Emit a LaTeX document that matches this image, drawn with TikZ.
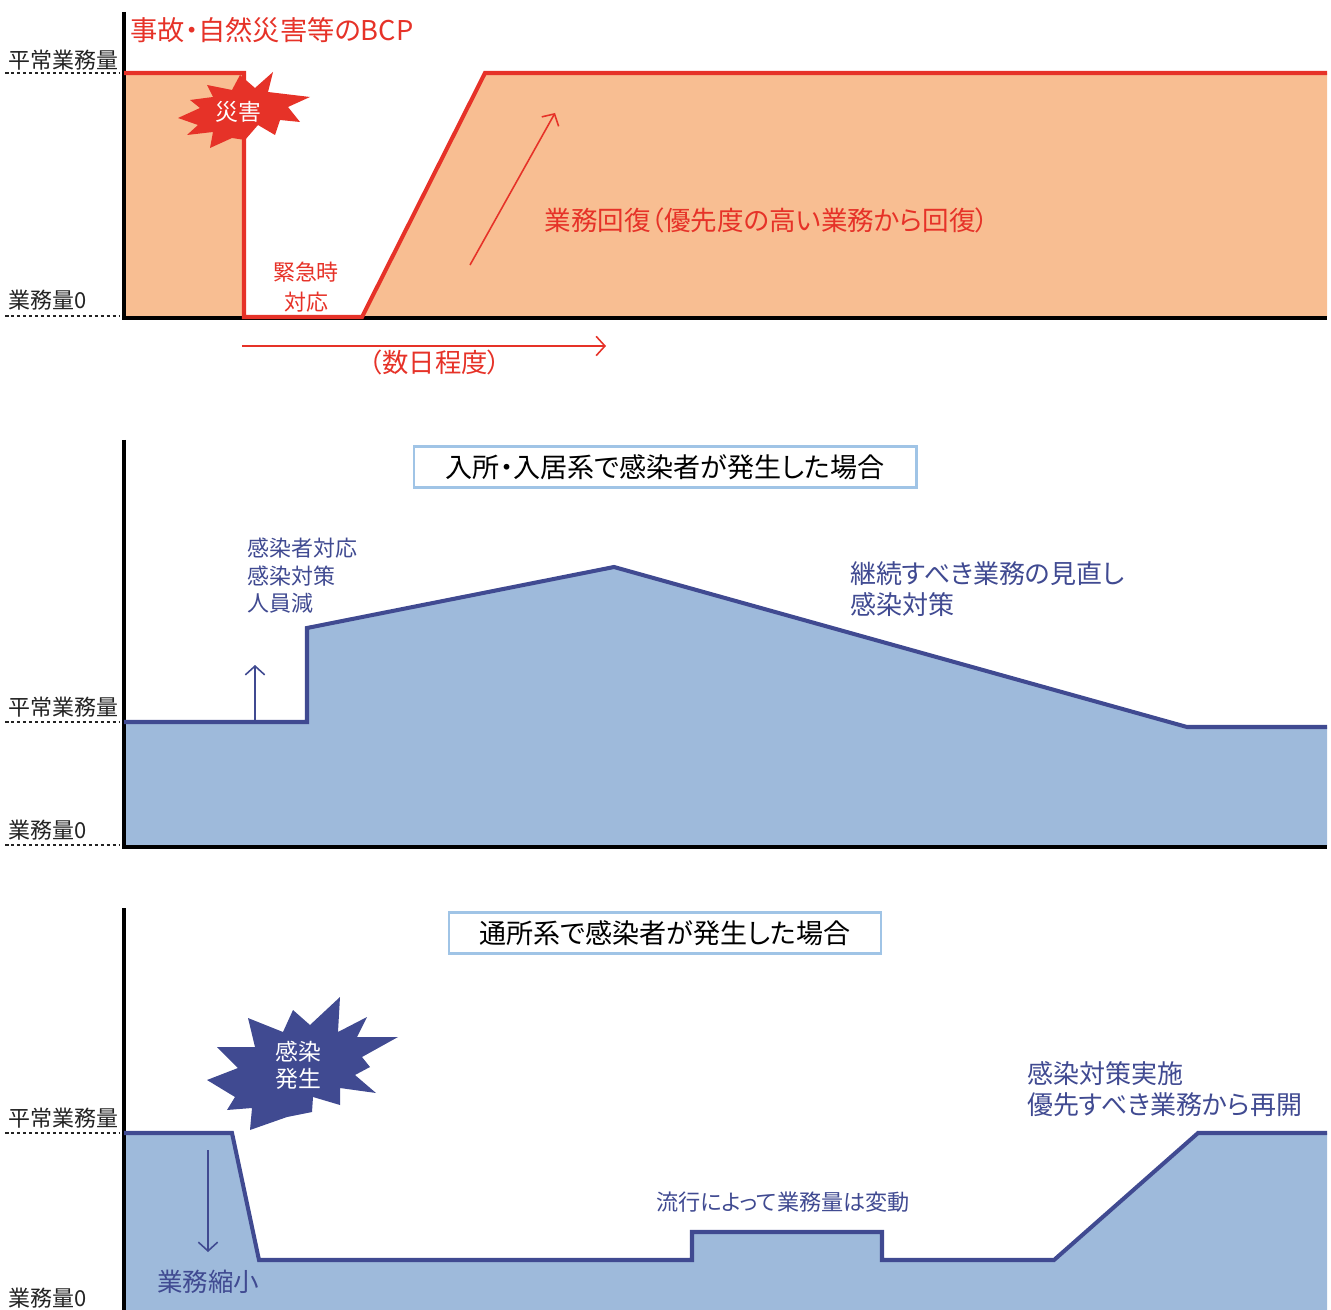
\documentclass[tikz,border=0pt]{standalone}
\usepackage{fontspec}
\setmainfont{Noto Sans CJK JP}[RawFeature=+palt]
\usetikzlibrary{arrows.meta}
\definecolor{bcpred}{RGB}{230,50,40}
\definecolor{bcporange}{RGB}{248,190,146}
\definecolor{infnavy}{RGB}{64,74,145}
\definecolor{infblue}{RGB}{158,186,219}
\definecolor{boxblue}{RGB}{160,196,230}
\definecolor{lblgray}{RGB}{35,35,35}
\tikzset{
  axis/.style={line width=2.4pt,black},
  level/.style={lblgray,line width=1pt,dash pattern=on 2pt off 1.4pt},
  lvllabel/.style={anchor=west,inner sep=0pt,text=lblgray,font=\fontsize{12.5}{14}\selectfont},
  redline/.style={bcpred,line width=2.3pt},
  navyline/.style={infnavy,line width=2.3pt},
  thinarrow/.style={line width=0.9pt,-{Straight Barb[length=5pt,width=11pt]}},
  casebox/.style={draw=boxblue,line width=1.2pt,fill=white,minimum height=0.82cm,inner sep=0pt,
    text=black,font=\fontsize{15.4}{17}\selectfont}
}
\begin{document}
\begin{tikzpicture}[x=0.02cm,y=-0.02cm]
    \useasboundingbox (0,0) rectangle (1331,1310);
    % 事故・自然災害
    \fill[bcporange] (124,73) rectangle (244,317);
    \fill[bcporange] (362,317) -- (485,73) -- (1327,73) -- (1327,317) -- cycle;
    \draw[axis] (124,12) -- (124,318) -- (1327,318);
    \draw[redline] (124,73) -- (244,73) -- (244,317) -- (362,317) -- (485,73) -- (1327,73);
    \draw[level] (5,73) -- (120,73); \draw[level] (5,316) -- (120,316);
    \node[lvllabel] (normA) at (8,60) {平常業務量};
    \node[lvllabel] (zeroA) at (8,300) {業務量0};
    \node[anchor=west,inner sep=0pt,text=bcpred,font=\fontsize{15.5}{17}\selectfont] (bcptitle) at (130,30) {事故・自然災害等のBCP};
    \fill[bcpred] (273,72) -- (268,92) -- (310,97) -- (288,107) -- (300,122) -- (280,120) -- (275,135) -- (258,125)
      -- (245,140) -- (232,138) -- (210,148) -- (213,132) -- (187,135) -- (198,125) -- (178,118) -- (200,108)
      -- (190,100) -- (213,97) -- (207,85) -- (232,90) -- (240,75) -- (255,88) -- cycle;
    \node[text=white,font=\fontsize{13}{15}\selectfont] (disaster) at (238,112) {災害};
    \node[align=center,text=bcpred,font=\fontsize{12.5}{17}\selectfont] (emergency) at (306,287) {緊急時\\対応};
    \coordinate (recA) at (470,265); \coordinate (recB) at (555,113);
    \draw[thinarrow,bcpred] (recA) -- (recB);
    \node[text=bcpred,font=\fontsize{15.1}{17}\selectfont] (recovery) at (767,220) {業務回復（優先度の高い業務から回復）};
    \coordinate (dayA) at (242,346); \coordinate (dayB) at (606,346);
    \draw[thinarrow,bcpred] (dayA) -- (dayB);
    \node[text=bcpred,font=\fontsize{15}{17}\selectfont] (days) at (435,362) {（数日程度）};
    % 入所・入居系
    \fill[infblue] (124,722) -- (307,722) -- (307,628) -- (614,567) -- (1187,727) -- (1327,727) -- (1327,846) -- (124,846) -- cycle;
    \draw[axis] (124,440) -- (124,847) -- (1327,847);
    \draw[navyline] (124,722) -- (307,722) -- (307,628) -- (614,567) -- (1187,727) -- (1327,727);
    \draw[level] (5,722) -- (120,722); \draw[level] (5,845) -- (120,845);
    \node[lvllabel] (normB) at (8,707) {平常業務量};
    \node[lvllabel] (zeroB) at (8,830) {業務量0};
    \node[casebox,minimum width=10.06cm] (caseA) at (665,467) {入所・入居系で感染者が発生した場合};
    \coordinate (upA) at (255,722); \coordinate (upB) at (255,665);
    \draw[thinarrow,infnavy] (upA) -- (upB);
    \node[anchor=west,align=left,inner sep=0pt,text=infnavy,font=\fontsize{12.5}{15.6}\selectfont] (response) at (247,576) {感染者対応\\感染対策\\人員減};
    \node[anchor=west,align=left,inner sep=0pt,text=infnavy,font=\fontsize{14.8}{17.6}\selectfont] (review) at (850,589) {継続すべき業務の見直し\\感染対策};
    % 通所系
    \fill[infblue] (124,1133) -- (232,1133) -- (259,1260) -- (692,1260) -- (692,1232) -- (882,1232) -- (882,1260)
      -- (1054,1260) -- (1198,1133) -- (1327,1133) -- (1327,1310) -- (124,1310) -- cycle;
    \draw[axis] (124,908) -- (124,1310);
    \draw[navyline] (124,1133) -- (232,1133) -- (259,1260) -- (692,1260) -- (692,1232) -- (882,1232) -- (882,1260)
      -- (1054,1260) -- (1198,1133) -- (1327,1133);
    \draw[level] (5,1133) -- (120,1133);
    \node[lvllabel] (normC) at (8,1118) {平常業務量};
    \node[lvllabel] (zeroC) at (8,1298) {業務量0};
    \node[casebox,minimum width=8.64cm] (caseB) at (665,933) {通所系で感染者が発生した場合};
    \fill[infnavy] (340,997) -- (338,1032) -- (367,1017) -- (357,1037) -- (398,1037) -- (362,1057) -- (370,1067)
      -- (355,1075) -- (376,1093) -- (340,1088) -- (340,1105) -- (313,1097) -- (312,1112) -- (287,1117)
      -- (250,1130) -- (252,1108) -- (227,1110) -- (235,1097) -- (207,1080) -- (238,1068) -- (217,1047)
      -- (255,1047) -- (248,1018) -- (283,1032) -- (293,1010) -- (310,1025) -- cycle;
    \node[align=center,text=white,font=\fontsize{13}{15.3}\selectfont] (outbreak) at (298,1065) {感染\\発生};
    \coordinate (downA) at (208,1150); \coordinate (downB) at (208,1252);
    \draw[thinarrow,infnavy] (downA) -- (downB);
    \node[text=infnavy,font=\fontsize{14.5}{17}\selectfont] (shrink) at (208,1282) {業務縮小};
    \node[text=infnavy,font=\fontsize{12.6}{14}\selectfont] (fluct) at (783,1202) {流行によって業務量は変動};
    \node[anchor=west,align=left,inner sep=0pt,text=infnavy,font=\fontsize{14.8}{18}\selectfont] (resume) at (1027,1089) {感染対策実施\\優先すべき業務から再開};
\end{tikzpicture}
\end{document}
